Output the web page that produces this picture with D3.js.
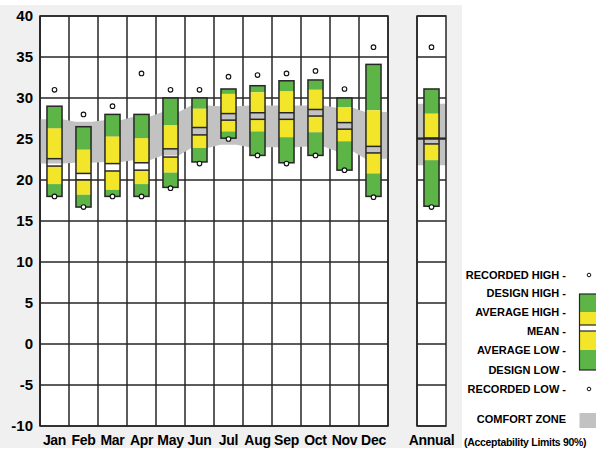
<!DOCTYPE html>
<html><head><meta charset="utf-8">
<script src="https://cdn.jsdelivr.net/npm/d3@7"></script>
<style>body{margin:0;background:#fff}svg{display:block}text{font-family:Arial,"Liberation Sans",sans-serif;font-weight:bold;fill:#000}</style>
</head><body><svg id="c" width="596" height="450"></svg>
<script>
const months = ["Jan","Feb","Mar","Apr","May","Jun","Jul","Aug","Sep","Oct","Nov","Dec"];
const recHigh    = [31, 28, 29, 33, 31, 31, 32.6, 32.8, 33, 33.3, 31.1, 36.2];
const designHigh = [29, 26.5, 28, 28, 30, 30, 31.1, 31.5, 32.1, 32.2, 30, 34.1];
const avgHigh    = [26.3, 23.7, 25.3, 25.1, 26.7, 28.7, 30.5, 30.7, 30.8, 31, 28.9, 28.5];
const meanUpper  = [22.6, 20.8, 22.0, 22.1, 23.8, 26.4, 28.1, 28.2, 28.2, 28.6, 27.0, 24.1];
const meanLower  = [21.7, 20.0, 21.1, 21.2, 22.8, 25.5, 27.3, 27.4, 27.4, 27.8, 26.2, 23.3];
const avgLow     = [19.5, 18.2, 18.8, 19.5, 20.9, 23.9, 25.9, 25.9, 25.2, 25.8, 24.7, 20.8];
const designLow  = [18, 16.7, 18, 18, 19.1, 22.2, 25.1, 23, 22.1, 23, 21.2, 18];
const recLow     = [18, 16.7, 18, 18, 19, 22, 25, 23, 22, 23, 21.2, 17.9];
const comfortHigh = [27.4, 27.1, 27.3, 27.7, 28.3, 29.1, 29.0, 29.1, 29.1, 29.1, 28.8, 28.3];
const comfortLow  = [22.0, 22.1, 22.2, 22.4, 23.0, 23.9, 24.3, 24.0, 24.0, 24.1, 23.5, 22.6];
const annualLabel = ["Annual"];
const annual = {recHigh:36.2, designHigh:31.1, avgHigh:28.1, meanUpper:25.1, meanLower:24.4, avgLow:22.4, designLow:16.8, recLow:16.7, comfortHigh:29.3, comfortLow:21.8};
const yTicks = [40,35,30,25,20,15,10,5,0,-5,-10];
const legendLabels = ["RECORDED HIGH -","DESIGN HIGH -","AVERAGE HIGH -","MEAN -","AVERAGE LOW -","DESIGN LOW -","RECORDED LOW -"];

const GREEN="#5cb546", YELLOW="#f3e52a", BAND="#c2c2c2", LINE="#262626";
const svg = d3.select("#c");
svg.append("rect").attr("x",0).attr("y",5).attr("width",462).attr("height",443).attr("fill","#f0f0f0");

const y = d3.scaleLinear().domain([-10,40]).range([426,16]);
const x = d3.scaleBand().domain(months).range([40,388]);
const xa = d3.scaleBand().domain(annualLabel).range([417,446]);
const bw = x.bandwidth();
const barW = bw*0.52;

function panel(scale){
  const [x0,x1]=scale.range();
  svg.append("rect").attr("x",x0).attr("y",y(40)).attr("width",x1-x0).attr("height",y(-10)-y(40)).attr("fill","#fff");
}
function grid(scale){
  const [x0,x1]=scale.range();
  const g=svg.append("g").attr("stroke",LINE).attr("stroke-width",1.5);
  yTicks.forEach(t=>g.append("line").attr("x1",x0).attr("x2",x1).attr("y1",y(t)).attr("y2",y(t)));
  scale.domain().forEach(d=>{
    g.append("line").attr("x1",scale(d)).attr("x2",scale(d)).attr("y1",y(40)).attr("y2",y(-10));
  });
  g.append("rect").attr("x",x0).attr("y",y(40)).attr("width",x1-x0).attr("height",y(-10)-y(40)).attr("fill","none");
}
panel(x); panel(xa);
grid(x);

// comfort band (months)
const pts=[];
months.forEach((m,i)=>{
  pts.push({x:x(m)+bw*0.22,h:comfortHigh[i],l:comfortLow[i]});
  pts.push({x:x(m)+bw*0.78,h:comfortHigh[i],l:comfortLow[i]});
});
pts.unshift({x:x.range()[0],h:comfortHigh[0],l:comfortLow[0]});
pts.push({x:x.range()[1],h:comfortHigh[11],l:comfortLow[11]});
svg.append("path").datum(pts).attr("fill",BAND)
  .attr("d",d3.area().x(d=>d.x).y0(d=>y(d.l)).y1(d=>y(d.h)));
// comfort band annual
svg.append("rect").attr("x",xa.range()[0]).attr("width",xa.bandwidth())
  .attr("y",y(annual.comfortHigh)).attr("height",y(annual.comfortLow)-y(annual.comfortHigh)).attr("fill",BAND);
grid(xa);
// redraw border lines over band
svg.append("g").attr("stroke",LINE).attr("stroke-width",1.5).selectAll("line")
  .data([x.range()[0],x.range()[1]]).join("line").attr("x1",d=>d).attr("x2",d=>d).attr("y1",y(40)).attr("y2",y(-10));

function drawBar(cx,d){
  const g=svg.append("g");
  const x0=cx-barW/2;
  const seg=(a,b,c)=>g.append("rect").attr("x",x0).attr("width",barW).attr("y",y(a)).attr("height",y(b)-y(a)).attr("fill",c);
  seg(d.designHigh,d.avgHigh,GREEN);
  seg(d.avgHigh,d.meanUpper,YELLOW);
  seg(d.meanLower,d.avgLow,YELLOW);
  seg(d.avgLow,d.designLow,GREEN);
  [d.meanUpper,d.meanLower].forEach(v=>g.append("line").attr("x1",x0).attr("x2",x0+barW).attr("y1",y(v)).attr("y2",y(v)).attr("stroke",LINE).attr("stroke-width",1.5));
  g.append("rect").attr("x",x0).attr("width",barW).attr("y",y(d.designHigh)).attr("height",y(d.designLow)-y(d.designHigh))
    .attr("fill","none").attr("stroke",LINE).attr("stroke-width",1.5);
  [d.recHigh,d.recLow].forEach(v=>g.append("circle").attr("cx",cx).attr("cy",y(v)).attr("r",2.3).attr("fill","#fff").attr("stroke","#111").attr("stroke-width",1.1));
}
months.forEach((m,i)=>drawBar(x(m)+bw/2,{recHigh:recHigh[i],designHigh:designHigh[i],avgHigh:avgHigh[i],meanUpper:meanUpper[i],meanLower:meanLower[i],avgLow:avgLow[i],designLow:designLow[i],recLow:recLow[i]}));
drawBar(xa("Annual")+xa.bandwidth()/2,annual);
// annual mean line across panel
svg.append("line").attr("x1",xa.range()[0]).attr("x2",xa.range()[1]).attr("y1",y(annual.meanUpper)).attr("y2",y(annual.meanUpper)).attr("stroke",LINE).attr("stroke-width",1.5);

// y labels
svg.append("g").selectAll("text").data(yTicks).join("text")
  .attr("x",33).attr("y",d=>y(d)).attr("dy","0.36em").attr("text-anchor","end").attr("font-size",15).text(d=>d);
// x labels
svg.append("g").selectAll("text").data(months).join("text")
  .attr("x",d=>x(d)+bw/2).attr("y",445).attr("text-anchor","middle").attr("font-size",14).attr("letter-spacing",-0.3).text(d=>d);
svg.append("text").attr("x",xa("Annual")+xa.bandwidth()/2).attr("y",445).attr("text-anchor","middle").attr("font-size",14).attr("letter-spacing",-0.3).text("Annual");

// legend
const ly=[275,293.5,312.5,331,350.5,370,389];
svg.append("g").selectAll("text").data(legendLabels).join("text")
  .attr("x",566).attr("y",(d,i)=>ly[i]).attr("dy","0.36em").attr("text-anchor","end").attr("font-size",11).text(d=>d);
svg.append("text").attr("x",566).attr("y",419).attr("dy","0.36em").attr("text-anchor","end").attr("font-size",11).text("COMFORT ZONE");
svg.append("text").attr("x",464).attr("y",442.5).attr("dy","0.36em").attr("font-size",10.5).attr("letter-spacing",-0.3).text("(Acceptability Limits 90%)");
const lg=svg.append("g");
const lx=579.5, lw=20;
lg.append("rect").attr("x",lx).attr("y",294).attr("width",lw).attr("height",18).attr("fill",GREEN);
lg.append("rect").attr("x",lx).attr("y",312).attr("width",lw).attr("height",13).attr("fill",YELLOW);
lg.append("rect").attr("x",lx).attr("y",325).attr("width",lw).attr("height",6).attr("fill","#fff");
lg.append("rect").attr("x",lx).attr("y",331).attr("width",lw).attr("height",19).attr("fill",YELLOW);
lg.append("rect").attr("x",lx).attr("y",350).attr("width",lw).attr("height",20).attr("fill",GREEN);
[325,331].forEach(v=>lg.append("line").attr("x1",lx).attr("x2",lx+lw).attr("y1",v).attr("y2",v).attr("stroke",LINE).attr("stroke-width",1.2));
lg.append("rect").attr("x",lx).attr("y",294).attr("width",lw).attr("height",76).attr("fill","none").attr("stroke",LINE).attr("stroke-width",1.2);
[275,389].forEach(v=>lg.append("circle").attr("cx",589).attr("cy",v).attr("r",1.8).attr("fill","#fff").attr("stroke","#111").attr("stroke-width",1));
lg.append("rect").attr("x",lx).attr("y",413).attr("width",lw).attr("height",15).attr("fill",BAND);
</script></body></html>
